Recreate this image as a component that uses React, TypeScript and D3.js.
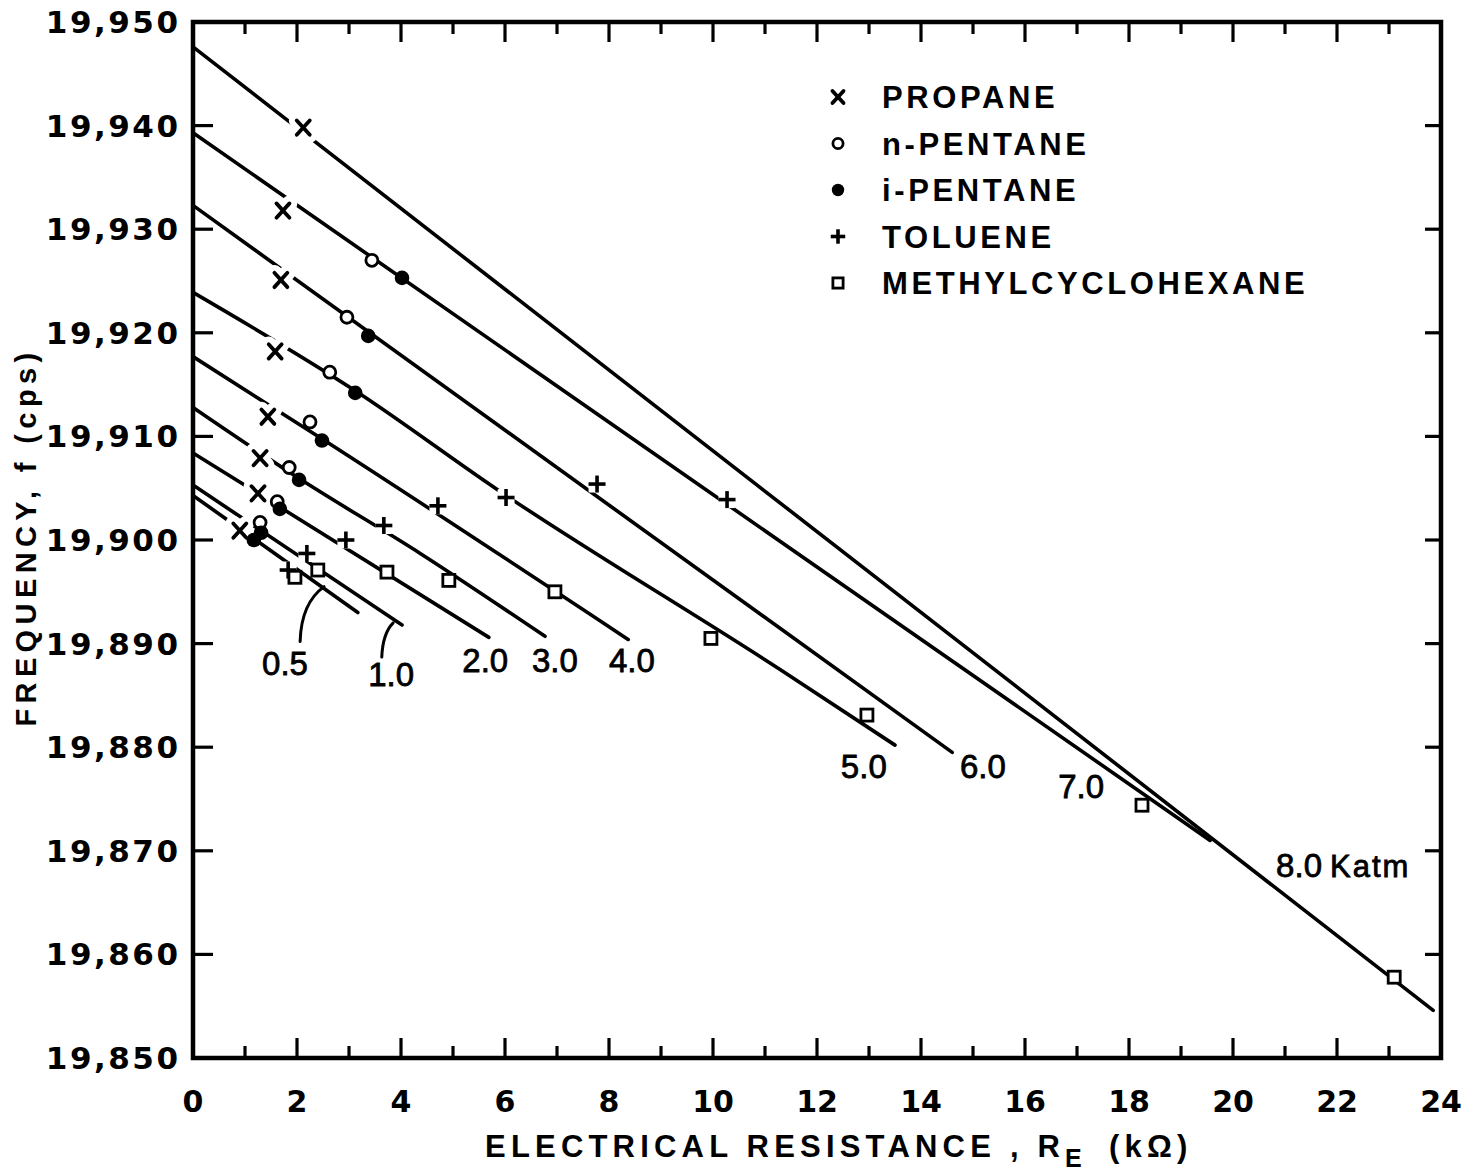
import React from "react";
import * as d3 from "d3";

// Axis ticks
const X_TICK_VALUES = [0, 2, 4, 6, 8, 10, 12, 14, 16, 18, 20, 22, 24];
const Y_TICK_VALUES = [19850, 19860, 19870, 19880, 19890, 19900, 19910, 19920, 19930, 19940, 19950];

// Measured points [resistance kΩ, frequency cps]
const propane: [number, number][] = [
  [2.12, 19939.8], [1.73, 19931.8], [1.69, 19925.1], [1.58, 19918.2],
  [1.44, 19911.9], [1.29, 19907.9], [1.25, 19904.5], [0.9, 19900.9],
];
const nPentane: [number, number][] = [
  [3.44, 19927.0], [2.96, 19921.5], [2.63, 19916.2], [2.25, 19911.4],
  [1.85, 19907.0], [1.62, 19903.7], [1.29, 19901.7],
];
const iPentane: [number, number][] = [
  [4.02, 19925.3], [3.37, 19919.7], [3.12, 19914.2], [2.48, 19909.6],
  [2.04, 19905.8], [1.67, 19903.0], [1.31, 19900.7], [1.17, 19900.0],
];
const toluene: [number, number][] = [
  [10.27, 19903.9], [7.77, 19905.4], [6.02, 19904.1], [4.71, 19903.3],
  [3.67, 19901.4], [2.94, 19900.0], [2.19, 19898.7], [1.83, 19897.1],
];
const methylcyclohexane: [number, number][] = [
  [23.1, 19857.8], [18.25, 19874.4], [12.96, 19883.1], [9.96, 19890.5],
  [6.96, 19895.0], [4.92, 19896.1], [3.73, 19896.9], [2.4, 19897.1], [1.96, 19896.4],
];

// Isobars (Katm)
const ISOBAR_NAMES = ["0.5", "1.0", "2.0", "3.0", "4.0", "5.0", "6.0", "7.0", "8.0 Katm"];
const isobar05: [number, number][] = [[0, 19904.3], [3.17, 19893.0]];
const isobar10: [number, number][] = [[0, 19905.3], [4.02, 19891.8]];
const isobar20: [number, number][] = [[0, 19908.4], [5.69, 19890.6]];
const isobar30: [number, number][] = [[0, 19912.8], [2.02, 19906.0], [4.37, 19898.7], [6.77, 19890.7]];
const isobar40: [number, number][] = [[0, 19917.7], [2.5, 19909.7], [8.37, 19890.4]];
const isobar50: [number, number][] = [[0, 19923.9], [3.12, 19914.4], [5.87, 19904.8], [11.29, 19887.5], [13.5, 19880.2]];
const isobar60: [number, number][] = [[0, 19932.3], [14.6, 19879.5]];
const isobar70: [number, number][] = [[0, 19939.3], [19.56, 19871.0]];
const isobar80: [number, number][] = [[0, 19947.6], [23.85, 19854.6]];
const ISOBARS = [isobar05, isobar10, isobar20, isobar30, isobar40, isobar50, isobar60, isobar70, isobar80];
// Label centres in data units
const ISOBAR_LABEL_AT: [number, number][] = [
  [1.77, 19888.1], [3.81, 19887.1], [5.62, 19888.4], [6.96, 19888.4], [8.44, 19888.4],
  [12.9, 19878.2], [15.19, 19878.2], [17.08, 19876.3], [22.12, 19868.6],
];
// Leader curves for the two crowded labels: [start, control, end]
const LEADER_05: [number, number][] = [[2.06, 19890.2], [2.08, 19893.9], [2.52, 19895.5]];
const LEADER_10: [number, number][] = [[3.63, 19888.7], [3.65, 19891.0], [3.85, 19892.0]];

const LEGEND_NAMES = ["PROPANE", "n-PENTANE", "i-PENTANE", "TOLUENE", "METHYLCYCLOHEXANE"];

const W = 1477;
const H = 1173;
const x = d3.scaleLinear().domain([0, 24]).range([193, 1441]);
const y = d3.scaleLinear().domain([19850, 19950]).range([1058, 22]);

type Shape = "x" | "o" | "dot" | "plus" | "sq";
const SERIES: { shape: Shape; data: [number, number][] }[] = [
  { shape: "x", data: propane },
  { shape: "o", data: nPentane },
  { shape: "dot", data: iPentane },
  { shape: "plus", data: toluene },
  { shape: "sq", data: methylcyclohexane },
];

function Marker({ shape, cx, cy, s = 1, halo = false }: { shape: Shape; cx: number; cy: number; s?: number; halo?: boolean }) {
  const col = halo ? "#fff" : "#000";
  const extra = halo ? 12 : 0;
  if (shape === "x") {
    const a = 6.5 * s;
    return (
      <g stroke={col} strokeWidth={3.8 + extra} strokeLinecap="round">
        <line x1={cx - a} y1={cy - a * 1.1} x2={cx + a} y2={cy + a * 1.1} />
        <line x1={cx + a} y1={cy - a * 1.1} x2={cx - a} y2={cy + a * 1.1} />
      </g>
    );
  }
  if (shape === "plus") {
    const a = 8.5 * s;
    return (
      <g stroke={col} strokeWidth={3.6 + extra} strokeLinecap="butt">
        <line x1={cx - a} y1={cy} x2={cx + a} y2={cy} />
        <line x1={cx} y1={cy - a} x2={cx} y2={cy + a} />
      </g>
    );
  }
  if (halo) return null;
  if (shape === "o") return <circle cx={cx} cy={cy} r={6 * s} fill="#fff" stroke="#000" strokeWidth={2.8} />;
  if (shape === "dot") return <circle cx={cx} cy={cy} r={7.3 * s} fill="#000" />;
  const h = 6 * s;
  return <rect x={cx - h} y={cy - h} width={2 * h} height={2 * h} fill="#fff" stroke="#000" strokeWidth={2.8} />;
}

export default function App() {
  const line = d3.line<[number, number]>().x((d) => x(d[0])).y((d) => y(d[1])).curve(d3.curveMonotoneX);
  const leader = (p: [number, number][]) =>
    `M${x(p[0][0])},${y(p[0][1])} Q${x(p[1][0])},${y(p[1][1])} ${x(p[2][0])},${y(p[2][1])}`;
  const minorX = d3.range(1, 24);
  const innerY = Y_TICK_VALUES.slice(1, -1);
  const [x0, x1] = x.range();
  const [yb, yt] = y.range();
  const legendY = d3.scaleLinear().domain([0, 4]).range([97, 283]);
  const yLabelSpacing = 2.5;

  return (
    <svg width={W} height={H} style={{ position: "absolute", left: 0, top: 0, background: "#fff" }}>
      <rect width={W} height={H} fill="#fff" />

      {/* isobar lines */}
      <g fill="none" stroke="#000" strokeWidth={3.6} strokeLinecap="round">
        {ISOBARS.map((pts, i) => (
          <path key={i} d={line(pts) || ""} />
        ))}
        <path d={leader(LEADER_05)} strokeWidth={3} />
        <path d={leader(LEADER_10)} strokeWidth={3} />
      </g>

      {/* marker halos then markers */}
      {SERIES.map((s, i) => (
        <g key={"h" + i}>
          {s.data.map((d, j) => (
            <Marker key={j} shape={s.shape} cx={x(d[0])} cy={y(d[1])} halo />
          ))}
        </g>
      ))}
      {SERIES.map((s, i) => (
        <g key={"m" + i}>
          {s.data.map((d, j) => (
            <Marker key={j} shape={s.shape} cx={x(d[0])} cy={y(d[1])} />
          ))}
        </g>
      ))}

      {/* isobar labels */}
      <g fontFamily="'Liberation Sans', Arial, sans-serif" fontSize={33} textAnchor="middle" fill="#000" stroke="#000" strokeWidth={0.8}>
        {ISOBAR_NAMES.map((t, i) => {
          const [r, f] = ISOBAR_LABEL_AT[i];
          if (t.includes("Katm")) {
            return (
              <text key={i} x={x(r)} y={y(f) + 12}>
                8.0<tspan fontSize={31} dx={8} letterSpacing={2}>Katm</tspan>
              </text>
            );
          }
          return (
            <text key={i} x={x(r)} y={y(f) + 12}>
              {t}
            </text>
          );
        })}
      </g>

      {/* frame */}
      <rect x={x0} y={yt} width={x1 - x0} height={yb - yt} fill="none" stroke="#000" strokeWidth={4.5} />

      {/* ticks */}
      <g stroke="#000" strokeWidth={3.2}>
        {minorX.map((v) => {
          const len = v % 2 === 0 ? 20 : 12;
          return (
            <g key={v}>
              <line x1={x(v)} x2={x(v)} y1={yb} y2={yb - len} />
              <line x1={x(v)} x2={x(v)} y1={yt} y2={yt + len} />
            </g>
          );
        })}
        {innerY.map((v) => (
          <g key={v}>
            <line x1={x0} x2={x0 + 20} y1={y(v)} y2={y(v)} />
            <line x1={x1} x2={x1 - 16} y1={y(v)} y2={y(v)} />
          </g>
        ))}
      </g>

      {/* tick labels */}
      <g fontFamily="'DejaVu Sans', sans-serif" fontWeight="bold" fontSize={31} fill="#000">
        {Y_TICK_VALUES.map((v) => (
          <text key={v} x={x0 - 15 + yLabelSpacing} y={y(v) + 11} textAnchor="end" letterSpacing={yLabelSpacing}>
            {d3.format(",")(v)}
          </text>
        ))}
        {X_TICK_VALUES.map((v) => (
          <text key={v} x={x(v)} y={yb + 54} textAnchor="middle" fontSize={30}>
            {v}
          </text>
        ))}
      </g>

      {/* axis titles */}
      <g fontFamily="'Liberation Sans', Arial, sans-serif" fontWeight="bold" fontSize={31} fill="#000">
        <text x={485} y={1157} letterSpacing={5.2}>
          ELECTRICAL RESISTANCE , R
          <tspan fontSize={25} dy={10}>E</tspan>
          <tspan dy={-10} dx={22}>(kΩ)</tspan>
        </text>
        <text transform="translate(36,537) rotate(-90)" textAnchor="middle" letterSpacing={5.4} fontSize={29}>
          FREQUENCY, f (cps)
        </text>
      </g>

      {/* legend */}
      <g>
        {LEGEND_NAMES.map((name, i) => (
          <g key={name}>
            <Marker shape={SERIES[i].shape} cx={838} cy={legendY(i)} s={0.85} />
            <text
              x={882}
              y={legendY(i) + 11}
              fontFamily="'Liberation Sans', Arial, sans-serif"
              fontWeight="bold"
              fontSize={31}
              letterSpacing={3.6}
              fill="#000"
            >
              {name}
            </text>
          </g>
        ))}
      </g>
    </svg>
  );
}
